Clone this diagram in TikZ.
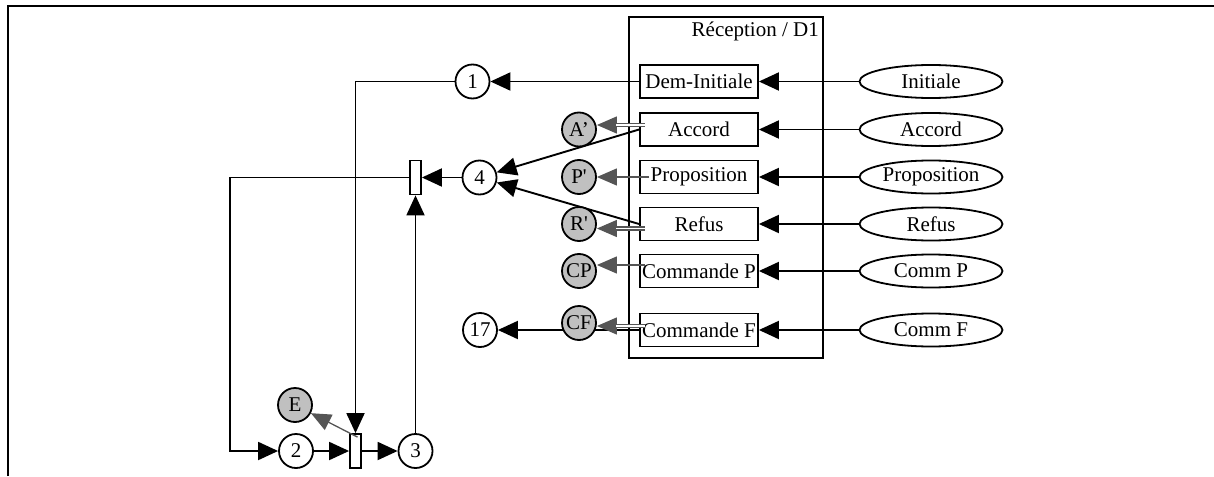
\documentclass[tikz,border=0pt]{standalone}
\usepackage{fontspec}
\setmainfont{Liberation Serif}
\usetikzlibrary{arrows.meta,shapes.geometric}
\definecolor{gline}{HTML}{555555}
\definecolor{gfill}{HTML}{C0C0C0}
\begin{document}
\begin{tikzpicture}[x=1pt,y=-1pt,
  every node/.style={font=\fontsize{21}{25}\selectfont, inner sep=0pt},
  box/.style={draw, line width=1.8pt, minimum width=118pt, minimum height=33pt, fill=white},
  ell/.style={draw, ellipse, line width=1.8pt, minimum width=143pt, minimum height=33pt},
  place/.style={draw, circle, line width=1.8pt, minimum size=34pt, fill=white},
  gplace/.style={place, fill=gfill},
  trans/.style={draw, line width=1.8pt, minimum width=11pt, minimum height=34pt, fill=white},
  arr/.style={line width=1.9pt, -{Triangle[length=20pt,width=18pt]}},
  garr/.style={draw=gline, line width=1.3pt, -{Triangle[length=20pt,width=17pt,fill=gline]}},
  gdbl/.style={draw=gline, line width=1.4pt, double=white, double distance=1.6pt, shorten >=19pt},
]
\useasboundingbox (0,0) rectangle (1214,476);
\draw[line width=1.8pt] (8,476) -- (8,6) -- (1214,6);

% big box
\node[draw, line width=1.8pt, minimum width=194pt, minimum height=341pt] (rec) at (726,187.5) {};
\node[anchor=base east] (rlab) at (819,37) {Réception / D1};

% inner boxes
\node[box] (b1) at (699,81.5) {Dem-Initiale};
\node[box] (b2) at (699,129.5) {Accord};
\node[box] (b3) at (699,177) {Proposition};
\node[box] (b4) at (699,224) {Refus};
\node[box] (b5) at (699,271) {Commande P};
\node[box] (b6) at (699,330) {Commande F};

% ellipses
\node[ell] (e1) at (931,81.5) {Initiale};
\node[ell] (e2) at (931,129.5) {Accord};
\node[ell] (e3) at (931,177) {Proposition};
\node[ell] (e4) at (931,224) {Refus};
\node[ell] (e5) at (931,271) {Comm P};
\node[ell] (e6) at (931,330) {Comm F};

\foreach \i in {1,...,6} \draw[arr] (e\i) -- (b\i);

% places and transitions
\node[place] (c1) at (472.5,81.5) {1};
\node[place] (c4) at (479.5,177.5) {4};
\node[trans] (t4) at (415.5,177.5) {};
\node[place] (c2) at (296,451) {2};
\node[trans] (tb) at (355.5,451) {};
\node[place] (c3) at (415.5,451) {3};
\node[gplace] (E) at (295,405) {E};
\node[place] (c17) at (480,330) {17};
\coordinate (k) at (230,177.5);

\draw[arr] (b1) -- (c1);
\draw[arr] (c1.west) -| (tb.north);
\draw[arr] (b2.west) -- (c4);
\draw[arr] (b4.west) -- (c4);
\draw[arr] (c4) -- (t4);
\draw[arr] (t4.west) -- (k) |- (c2.west);
\draw[arr] (c2) -- (tb);
\draw[arr] (tb) -- (c3);
\draw[arr] (c3) -- (t4);
\draw[garr] ([xshift=2pt,yshift=-4pt]tb.north) -- (E);
\draw[arr] (b6.west) -- (c17);

% gray places
\node[gplace] (Ap) at (579,129.5) {A’};
\node[gplace] (Pp) at (579,177) {P\textquotesingle};
\node[gplace] (Rp) at (579,224) {R\textquotesingle};
\node[gplace] (CP) at (579,271) {CP};
\node[gplace] (CF) at (579,323) {CF};

% gray arrows
\draw[garr] ([xshift=6pt,yshift=4.5pt]b2.west) -- ([yshift=4.5pt]Ap.east);
\draw[gdbl] ([xshift=6pt,yshift=4.5pt]b2.west) -- ([yshift=4.5pt]Ap.east);
\draw[garr] ([xshift=10pt]b3.west) -- (Pp.east);
\draw[garr] ([xshift=6pt,yshift=-4.5pt]b4.west) -- ([yshift=-4.5pt]Rp.east);
\draw[gdbl] ([xshift=6pt,yshift=-4.5pt]b4.west) -- ([yshift=-4.5pt]Rp.east);
\draw[garr] ([xshift=6pt,yshift=6pt]b5.west) -- ([yshift=6pt]CP.east);
\draw[garr] ([xshift=6pt,yshift=4pt]b6.west) -- ([yshift=-3pt]CF.east);
\draw[gdbl] ([xshift=6pt,yshift=4pt]b6.west) -- ([yshift=-3pt]CF.east);
\end{tikzpicture}
\end{document}
